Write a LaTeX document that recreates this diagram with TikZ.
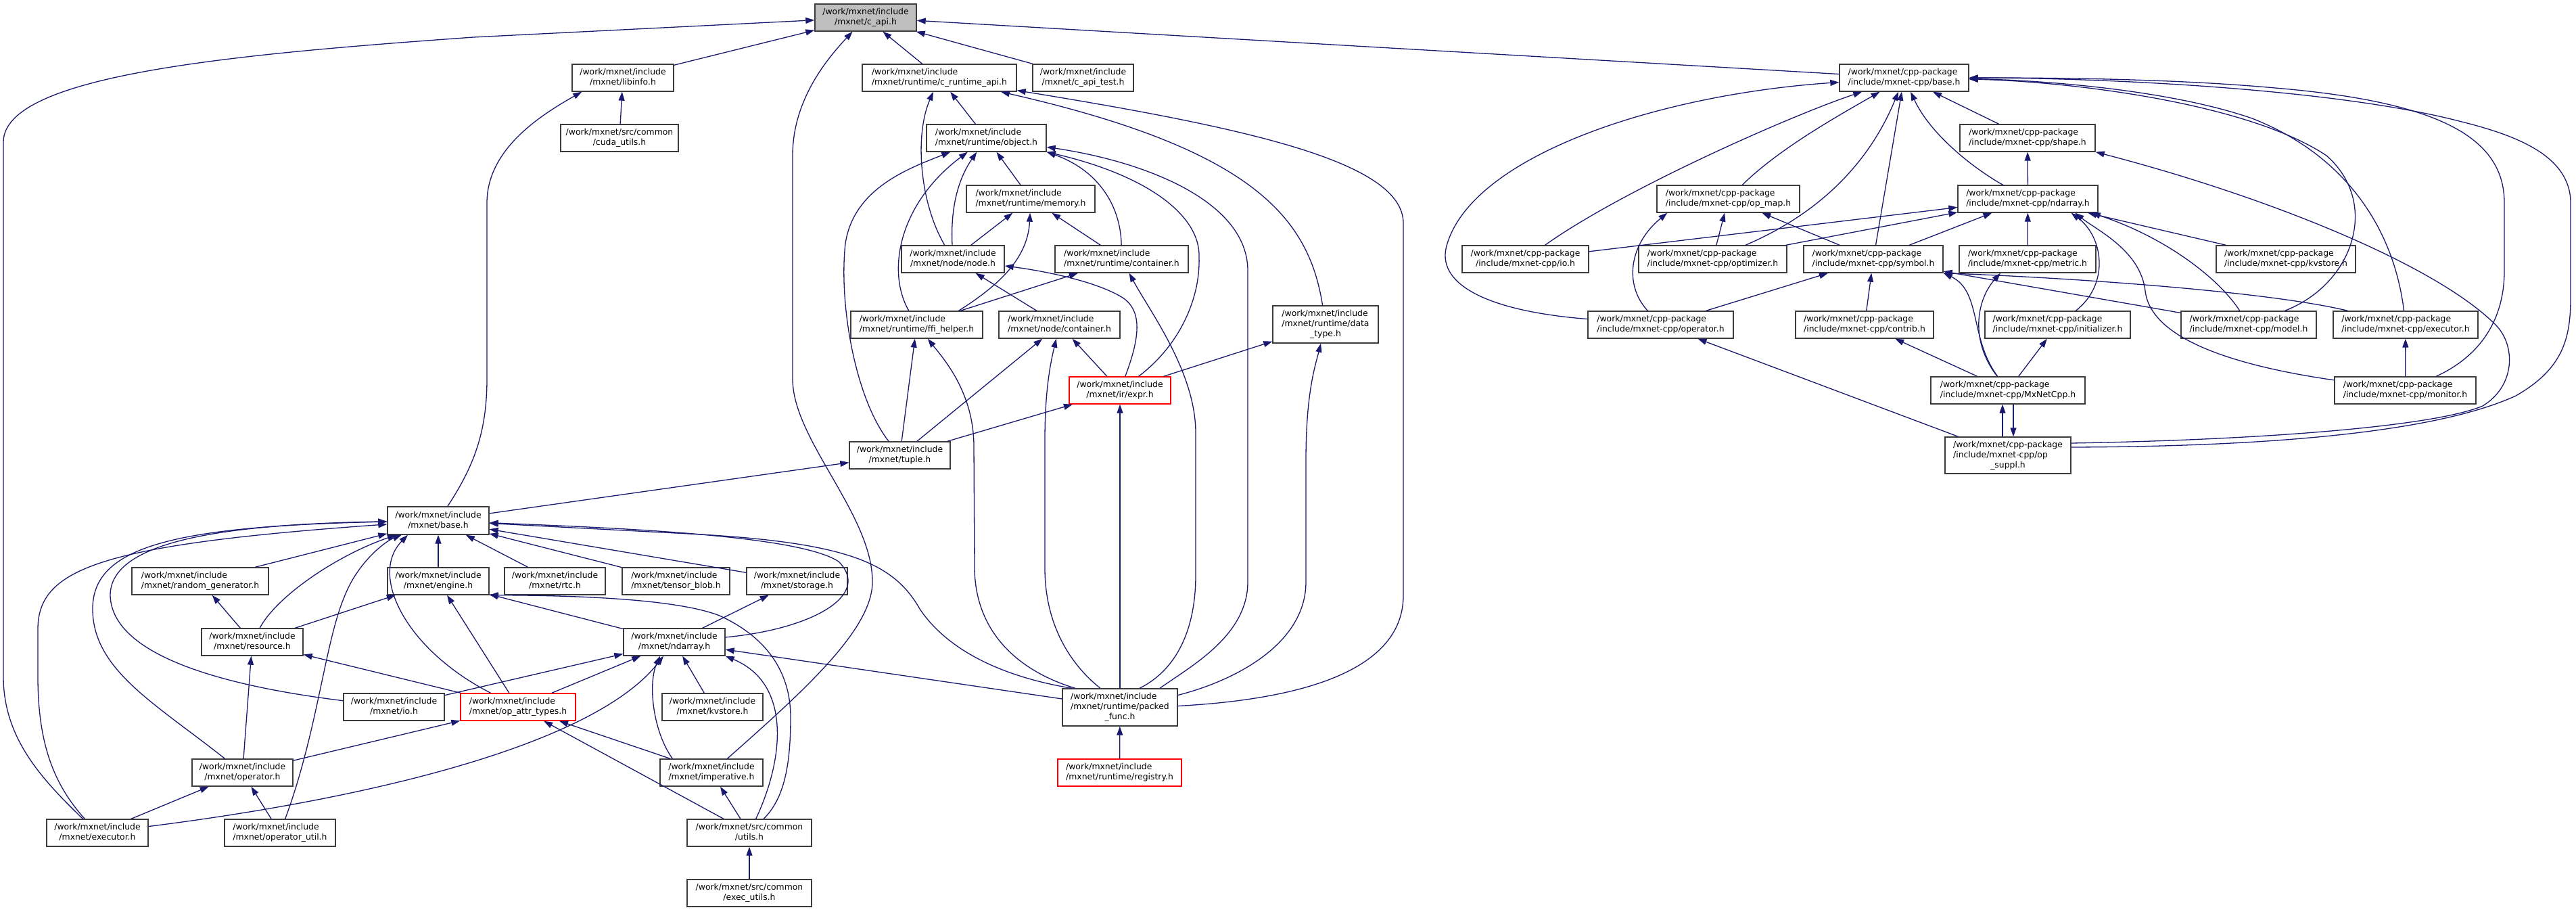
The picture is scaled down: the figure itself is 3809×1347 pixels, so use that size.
\documentclass[tikz,border=0pt]{standalone}
\usepackage{fontspec}
\setmainfont{DejaVu Sans}
\usetikzlibrary{arrows.meta}
\definecolor{edgec}{HTML}{191970}
\definecolor{boxc}{HTML}{3C3C3C}
\definecolor{capig}{HTML}{BFBFBF}
\newcommand\twol[2]{\begin{tabular}{@{}l@{}}#1\\\multicolumn{1}{@{}c@{}}{#2}\end{tabular}}
\newcommand\threel[3]{\begin{tabular}{@{}l@{}}#1\\#2\\\multicolumn{1}{@{}c@{}}{#3}\end{tabular}}
\newcommand\nd[7][]{\node[box,#1,minimum width={#5-#3},minimum height={#6-#4}] (#2) at ({(#3+#5)/2},{(#4+#6)/2}) {#7};}
\newcommand\wmi{/work/mxnet/include}
\newcommand\wcpp{/work/mxnet/cpp-package}
\begin{document}
\begin{tikzpicture}[x=1pt,y=-1pt,
  box/.style={draw=boxc,line width=1.4pt,fill=white,inner sep=0pt,font=\fontsize{12.4}{15}\selectfont,text=black},
  e/.style={draw=edgec,line width=1.3pt,-{Triangle[length=13pt,width=9pt]}}]
\fill[white] (0,0) rectangle (3809,1347);
\useasboundingbox (0,0) rectangle (3809,1347);
% ---------------- left cluster nodes
\nd[fill=capig]{capi}{1205}{6}{1355}{46}{\twol{\wmi}{/mxnet/c\_api.h}}
\nd{libinfo}{846}{95}{996}{135}{\twol{\wmi}{/mxnet/libinfo.h}}
\nd{crt}{1275}{95}{1503}{135}{\twol{\wmi}{/mxnet/runtime/c\_runtime\_api.h}}
\nd{capitest}{1527}{95}{1676}{135}{\twol{\wmi}{/mxnet/c\_api\_test.h}}
\nd{cuda}{829}{184}{1003}{224}{\twol{/work/mxnet/src/common}{/cuda\_utils.h}}
\nd{object}{1370}{184}{1547}{224}{\twol{\wmi}{/mxnet/runtime/object.h}}
\nd{memory}{1429}{274}{1619}{314}{\twol{\wmi}{/mxnet/runtime/memory.h}}
\nd{nodeh}{1333}{363}{1485}{403}{\twol{\wmi}{/mxnet/node/node.h}}
\nd{rcont}{1560}{363}{1757}{403}{\twol{\wmi}{/mxnet/runtime/container.h}}
\nd{ffi}{1258}{460}{1453}{500}{\twol{\wmi}{/mxnet/runtime/ffi\_helper.h}}
\nd{ncont}{1477}{460}{1656}{500}{\twol{\wmi}{/mxnet/node/container.h}}
\nd{dtype}{1882}{452}{2038}{507}{\threel{\wmi}{/mxnet/runtime/data}{\_type.h}}
\nd[draw=red]{expr}{1581}{557}{1731}{597}{\twol{\wmi}{/mxnet/ir/expr.h}}
\nd{tuple}{1256}{653}{1405}{693}{\twol{\wmi}{/mxnet/tuple.h}}
\nd{mbase}{573}{749}{723}{790}{\twol{\wmi}{/mxnet/base.h}}
\nd{randgen}{195}{839}{397}{879}{\twol{\wmi}{/mxnet/random\_generator.h}}
\nd{engine}{573}{839}{723}{879}{\twol{\wmi}{/mxnet/engine.h}}
\nd{rtc}{746}{839}{895}{879}{\twol{\wmi}{/mxnet/rtc.h}}
\nd{tblob}{920}{839}{1079}{879}{\twol{\wmi}{/mxnet/tensor\_blob.h}}
\nd{storage}{1104}{839}{1253}{879}{\twol{\wmi}{/mxnet/storage.h}}
\nd{resource}{298}{929}{448}{969}{\twol{\wmi}{/mxnet/resource.h}}
\nd{ndarray}{922}{929}{1072}{969}{\twol{\wmi}{/mxnet/ndarray.h}}
\nd{io}{508}{1025}{657}{1065}{\twol{\wmi}{/mxnet/io.h}}
\nd[draw=red]{opattr}{681}{1025}{851}{1065}{\twol{\wmi}{/mxnet/op\_attr\_types.h}}
\nd{kvstore}{979}{1025}{1128}{1065}{\twol{\wmi}{/mxnet/kvstore.h}}
\nd{packed}{1571}{1018}{1741}{1073}{\threel{\wmi}{/mxnet/runtime/packed}{\_func.h}}
\nd{operator}{284}{1122}{433}{1162}{\twol{\wmi}{/mxnet/operator.h}}
\nd{imperative}{976}{1122}{1128}{1162}{\twol{\wmi}{/mxnet/imperative.h}}
\nd[draw=red]{registry}{1564}{1122}{1747}{1162}{\twol{\wmi}{/mxnet/runtime/registry.h}}
\nd{executor}{69}{1211}{219}{1251}{\twol{\wmi}{/mxnet/executor.h}}
\nd{oputil}{332}{1211}{496}{1251}{\twol{\wmi}{/mxnet/operator\_util.h}}
\nd{utils}{1016}{1211}{1200}{1251}{\twol{/work/mxnet/src/common}{/utils.h}}
\nd{executils}{1016}{1300}{1200}{1340}{\twol{/work/mxnet/src/common}{/exec\_utils.h}}
% ---------------- right cluster nodes
\nd{cbase}{2720}{95}{2911}{135}{\twol{\wcpp}{/include/mxnet-cpp/base.h}}
\nd{shape}{2898}{184}{3098}{224}{\twol{\wcpp}{/include/mxnet-cpp/shape.h}}
\nd{cndarray}{2895}{274}{3102}{314}{\twol{\wcpp}{/include/mxnet-cpp/ndarray.h}}
\nd{opmap}{2450}{274}{2661}{314}{\twol{\wcpp}{/include/mxnet-cpp/op\_map.h}}
\nd{cio}{2162}{363}{2349}{403}{\twol{\wcpp}{/include/mxnet-cpp/io.h}}
\nd{optimizer}{2423}{363}{2642}{403}{\twol{\wcpp}{/include/mxnet-cpp/optimizer.h}}
\nd{symbol}{2667}{363}{2873}{403}{\twol{\wcpp}{/include/mxnet-cpp/symbol.h}}
\nd{metric}{2897}{363}{3099}{403}{\twol{\wcpp}{/include/mxnet-cpp/metric.h}}
\nd{kvs}{3277}{363}{3483}{403}{\twol{\wcpp}{/include/mxnet-cpp/kvstore.h}}
\nd{coperator}{2348}{460}{2563}{500}{\twol{\wcpp}{/include/mxnet-cpp/operator.h}}
\nd{contrib}{2655}{460}{2859}{500}{\twol{\wcpp}{/include/mxnet-cpp/contrib.h}}
\nd{init}{2935}{460}{3150}{500}{\twol{\wcpp}{/include/mxnet-cpp/initializer.h}}
\nd{model}{3225}{460}{3425}{500}{\twol{\wcpp}{/include/mxnet-cpp/model.h}}
\nd{cexec}{3450}{460}{3664}{500}{\twol{\wcpp}{/include/mxnet-cpp/executor.h}}
\nd{mxnetcpp}{2855}{557}{3083}{597}{\twol{\wcpp}{/include/mxnet-cpp/MxNetCpp.h}}
\nd{monitor}{3452}{557}{3661}{597}{\twol{\wcpp}{/include/mxnet-cpp/monitor.h}}
\nd{opsuppl}{2876}{646}{3062}{700}{\threel{\wcpp}{/include/mxnet-cpp/op}{\_suppl.h}}
% ---------------- left cluster edges
\draw[e] (executor) .. controls (60,1150) and (5,1090) .. (5,1000) -- (5,210) .. controls (5,110) and (350,80) .. (700,55) -- (capi);
\draw[e] (libinfo) -- (capi);
\draw[e] (imperative) .. controls (1190,1020) and (1290,930) .. (1290,860) .. controls (1290,760) and (1172,650) .. (1172,560) -- (1172,230) .. controls (1172,150) and (1220,90) .. (capi);
\draw[e] (crt) -- (capi);
\draw[e] (capitest) -- (capi);
\draw[e] (cbase) -- (capi);
\draw[e] (cuda) -- (libinfo);
\draw[e] (mbase) .. controls (700,690) and (720,640) .. (720,560) -- (720,300) .. controls (720,220) and (800,170) .. ([xshift=15pt]libinfo.south west);
\draw[e] (nodeh) .. controls (1360,300) and (1352,200) .. (crt);
\draw[e] (object) -- (crt);
\draw[e] (dtype) .. controls (1935,320) and (1850,220) .. (crt);
\draw[e] ([yshift=2pt]packed.east) .. controls (1900,1035) and (2075,1000) .. (2075,880) -- (2075,330) .. controls (2075,240) and (1850,190) .. (crt);
\draw[e] (tuple) .. controls (1265,590) and (1240,450) .. (1250,360) .. controls (1262,280) and (1340,250) .. (object);
\draw[e] (ffi) .. controls (1310,400) and (1330,300) .. (object);
\draw[e] (nodeh) .. controls (1405,300) and (1420,260) .. (object);
\draw[e] (memory) -- (object);
\draw[e] (rcont) .. controls (1657,300) and (1620,250) .. (object.south east);
\draw[e] (expr) .. controls (1745,510) and (1775,440) .. (1773,380) .. controls (1775,320) and (1700,260) .. (object);
\draw[e] ([xshift=59pt]packed.north) .. controls (1760,985) and (1845,940) .. (1845,860) -- (1845,400) .. controls (1845,300) and (1700,240) .. (object);
\draw[e] (nodeh) -- (memory);
\draw[e] ([xshift=62pt]ffi.north) .. controls (1480,420) and (1520,380) .. (memory);
\draw[e] (rcont) -- (memory);
\draw[e] (ffi) -- (rcont);
\draw[e] (expr) .. controls (1685,500) and (1690,460) .. (1660,440) .. controls (1620,415) and (1540,400) .. (nodeh);
\draw[e] (ncont) -- (nodeh);
\draw[e] (tuple) -- (ffi);
\draw[e] ([xshift=-66pt]packed.north) .. controls (1500,990) and (1442,930) .. (1441,840) -- (1440,660) .. controls (1440,580) and (1395,530) .. (ffi);
\draw[e] (tuple) -- (ncont);
\draw[e] ([xshift=-29pt]packed.north) .. controls (1580,980) and (1545,920) .. (1545,840) -- (1545,650) .. controls (1545,570) and (1555,530) .. (ncont);
\draw[e] (expr) -- (ncont);
\draw[e] ([xshift=29pt]packed.north) .. controls (1740,990) and (1768,930) .. (1768,850) -- (1768,640) .. controls (1768,550) and (1700,460) .. (rcont);
\draw[e] (packed) -- (expr);
\draw[e] (expr) -- (dtype);
\draw[e] ([yshift=18pt]packed.east) .. controls (1830,1005) and (1931,950) .. (1931,860) -- (1931,680) .. controls (1931,580) and (1945,540) .. (dtype);
\draw[e] (tuple) -- (expr);
\draw[e] (mbase) -- (tuple);
\draw[e] ([xshift=-71pt]packed.north) .. controls (1480,1000) and (1400,960) .. (1360,900) .. controls (1320,830) and (1250,800) .. (1000,788) -- (mbase);
\draw[e] (randgen) -- (mbase);
\draw[e] (resource) .. controls (410,880) and (500,820) .. (mbase);
\draw[e] (oputil) .. controls (470,1080) and (480,950) .. (510,880) .. controls (530,830) and (570,800) .. (mbase);
\draw[e] (opattr) .. controls (600,960) and (545,850) .. ([xshift=-45pt]mbase.south);
\draw[e] (engine) -- (mbase);
\draw[e] (rtc) -- (mbase);
\draw[e] (tblob) -- (mbase);
\draw[e] (storage) -- (mbase);
\draw[e] (ndarray) .. controls (1200,930) and (1290,880) .. (1240,830) .. controls (1180,790) and (900,780) .. (mbase);
\draw[e] (operator) .. controls (230,1040) and (137,990) .. (137,900) .. controls (137,810) and (250,778) .. (mbase);
\draw[e] (io) .. controls (300,1010) and (165,960) .. (163,880) .. controls (163,800) and (330,775) .. (mbase);
\draw[e] (executor) .. controls (80,1160) and (56,1100) .. (56,1000) -- (56,930) .. controls (56,840) and (150,805) .. (mbase);
\draw[e] (resource) -- (randgen);
\draw[e] (resource) -- (engine);
\draw[e] (opattr) -- (engine);
\draw[e] (ndarray) -- (engine);
\draw[e] (utils) .. controls (1160,1180) and (1169,1130) .. (1169,1060) .. controls (1169,990) and (1130,940) .. (1064,910) .. controls (1000,885) and (850,880) .. (engine.south east);
\draw[e] (operator) -- (resource);
\draw[e] (opattr) -- (resource);
\draw[e] (ndarray) -- (storage);
\draw[e] (io) -- (ndarray);
\draw[e] (opattr) -- (ndarray);
\draw[e] (executor) .. controls (550,1180) and (880,1100) .. (ndarray);
\draw[e] ([xshift=19pt]imperative.north west) .. controls (965,1080) and (958,1010) .. ([xshift=-21pt]ndarray.south);
\draw[e] (kvstore) -- (ndarray);
\draw[e] (utils) .. controls (1160,1120) and (1170,1010) .. (ndarray.south east);
\draw[e] (packed) -- (ndarray);
\draw[e] (operator) -- (opattr);
\draw[e] (utils) -- (opattr);
\draw[e] (imperative) -- (opattr);
\draw[e] (executor) -- (operator);
\draw[e] (oputil) -- (operator);
\draw[e] (utils) -- (imperative);
\draw[e] (executils) -- (utils);
\draw[e] (registry) -- (packed);
% ---------------- right cluster edges
\draw[e] (coperator) .. controls (2200,460) and (2120,420) .. (2140,360) .. controls (2180,230) and (2450,140) .. (cbase);
\draw[e] (cio) .. controls (2400,280) and (2650,170) .. (cbase);
\draw[e] (opmap) .. controls (2630,220) and (2720,170) .. (cbase);
\draw[e] (optimizer) .. controls (2680,320) and (2760,250) .. (cbase);
\draw[e] (symbol) -- (cbase);
\draw[e] (cndarray) .. controls (2920,250) and (2855,200) .. (cbase);
\draw[e] (shape) -- (cbase);
\draw[e] (model) .. controls (3480,420) and (3520,300) .. (3440,230) .. controls (3320,150) and (3050,120) .. (cbase);
\draw[e] (cexec) .. controls (3540,340) and (3470,230) .. (3330,175) .. controls (3200,130) and (3000,118) .. (cbase);
\draw[e] (monitor) .. controls (3660,530) and (3703,480) .. (3703,400) -- (3703,300) .. controls (3703,200) and (3600,150) .. (3364,130) .. controls (3200,115) and (3000,115) .. (cbase);
\draw[e] ([yshift=12pt]opsuppl.east) .. controls (3350,660) and (3600,640) .. (3720,585) .. controls (3790,545) and (3801,500) .. (3801,440) -- (3801,300) .. controls (3801,230) and (3720,200) .. (3640,180) .. controls (3450,130) and (3100,115) .. (cbase);
\draw[e] (cndarray) -- (shape);
\draw[e] ([yshift=18pt]opsuppl.east) .. controls (3350,650) and (3600,630) .. (3671,600) .. controls (3720,570) and (3720,510) .. (3690,480) .. controls (3600,390) and (3350,290) .. (shape.south east);
\draw[e] (cio) -- (cndarray);
\draw[e] (optimizer) -- (cndarray);
\draw[e] (symbol) -- (cndarray);
\draw[e] (metric) -- (cndarray);
\draw[e] (init) .. controls (3120,420) and (3110,350) .. ([xshift=64pt]cndarray.south);
\draw[e] (monitor) .. controls (3300,540) and (3180,500) .. (3172,430) .. controls (3165,370) and (3100,340) .. ([xshift=70pt]cndarray.south);
\draw[e] (model) .. controls (3280,410) and (3200,350) .. ([xshift=-10pt]cndarray.south east);
\draw[e] (kvs) -- (cndarray);
\draw[e] (opsuppl) -- (coperator);
\draw[e] (coperator) .. controls (2400,420) and (2410,360) .. ([xshift=16pt]opmap.south west);
\draw[e] (optimizer) -- (opmap);
\draw[e] (symbol) -- (opmap);
\draw[e] (coperator) -- (symbol);
\draw[e] (contrib) -- (symbol);
\draw[e] (model) -- (symbol);
\draw[e] (cexec) .. controls (3350,430) and (3050,410) .. (symbol.south east);
\draw[e] (mxnetcpp) .. controls (2912,500) and (2930,430) .. (symbol.south east);
\draw[e] (mxnetcpp) -- (contrib);
\draw[e] (mxnetcpp) -- (init);
\draw[e] (mxnetcpp) .. controls (2910,500) and (2925,440) .. ([xshift=-40pt]metric.south);
\draw[e] (monitor) -- (cexec);
\draw[e] ([xshift=-8pt]opsuppl.north) -- ([xshift=-8pt]mxnetcpp.south);
\draw[e] ([xshift=8pt]mxnetcpp.south) -- ([xshift=8pt]opsuppl.north);
\end{tikzpicture}
\end{document}
